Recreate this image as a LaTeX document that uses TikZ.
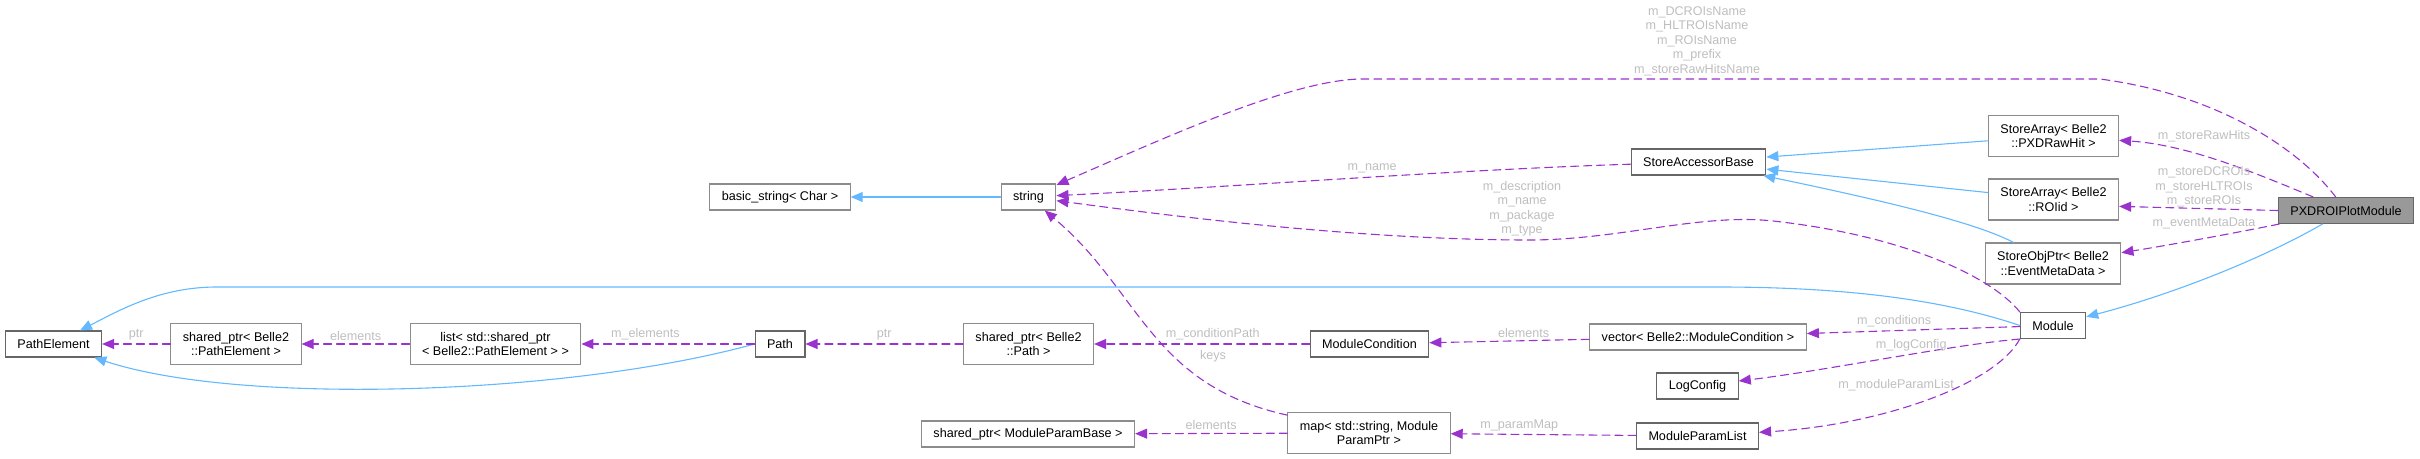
\documentclass[tikz,border=0pt]{standalone}
\usepackage{fontspec}
\setmainfont{Liberation Sans}
\usepackage{xcolor}
\definecolor{inhblue}{HTML}{63B8FF}
\definecolor{usepurple}{HTML}{9A32CD}
\definecolor{lblgrey}{HTML}{BEBEBE}
\definecolor{boxgrey}{HTML}{666666}
\definecolor{tplgrey}{HTML}{8C8C8C}
\definecolor{rootfill}{HTML}{999999}
\usepackage{tikz}
\usetikzlibrary{arrows.meta}

\begin{document}
\begin{tikzpicture}[x=1bp,y=-1bp,line cap=round]
	\tikzstyle{cls}=[draw=boxgrey,line width=1.1bp,fill=white,inner xsep=12bp,inner ysep=2bp,minimum height=26bp,align=center,font=\fontsize{12.6bp}{14.5bp}\selectfont];
	\tikzstyle{tpl}=[cls,draw=tplgrey];
	\tikzstyle{two}=[minimum height=41bp];
	\tikzstyle{root}=[cls,fill=rootfill];
	\tikzstyle{inh}=[draw=inhblue,line width=1.1bp,-{Triangle[length=12bp,width=10bp]}];
	\tikzstyle{use}=[draw=usepurple,line width=1.1bp,dash pattern=on 8bp off 5bp,-{Triangle[length=12bp,width=10bp]}];
	\tikzstyle{lbl}=[text=lblgrey,inner sep=1bp,align=center,font=\fontsize{12.6bp}{14.5bp}\selectfont];
	\useasboundingbox (0,0) rectangle (2420,459);
	% classes
	\node[cls]     (pathel)   at (53.5,344)   {PathElement};
	\node[tpl,two] (sppathel) at (236,344)    {shared\_ptr< Belle2\\::PathElement >};
	\node[tpl,two] (listpe)   at (495.5,344)  {list< std::shared\_ptr\\< Belle2::PathElement > >};
	\node[cls]     (path)     at (780,344)    {Path};
	\node[tpl,two] (sppath)   at (1028.5,344) {shared\_ptr< Belle2\\::Path >};
	\node[cls]     (modcond)  at (1369.5,344) {ModuleCondition};
	\node[tpl]     (vecmc)    at (1698,337)   {vector< Belle2::ModuleCondition >};
	\node[cls]     (module)   at (2053,325.5) {Module};
	\node[cls]     (logcfg)   at (1697.5,386) {LogConfig};
	\node[cls]     (mplist)   at (1697.5,436) {ModuleParamList};
	\node[tpl,two] (pmap)     at (1369,433)   {map< std::string, Module\\ParamPtr >};
	\node[tpl]     (spmpb)    at (1028,434)   {shared\_ptr< ModuleParamBase >};
	\node[tpl]     (bstring)  at (780,197)    {basic\_string< Char >};
	\node[tpl]     (string)   at (1028.5,197) {string};
	\node[cls]     (sab)      at (1698.5,162) {StoreAccessorBase};
	\node[tpl,two] (sarawhit) at (2053.5,136) {StoreArray< Belle2\\::PXDRawHit >};
	\node[tpl,two] (saroi)    at (2053.5,199.5) {StoreArray< Belle2\\::ROIid >};
	\node[tpl,two] (sopemd)   at (2053,263.5) {StoreObjPtr< Belle2\\::EventMetaData >};
	\node[root]    (pxdroi)   at (2346,210.5) {PXDROIPlotModule};
	% inheritance
	\draw[inh] (string) -- (bstring);
	\draw[inh] (path.west) .. controls (570,395) and (240,406) .. (pathel);
	\draw[inh] (module.west) .. controls (1930,295) and (1820,287) .. (1717,287) -- (217,287) .. controls (160,287) and (120,310) .. (pathel);
	\draw[inh] (sarawhit) -- (sab);
	\draw[inh] (saroi) -- (sab);
	\draw[inh] (sopemd) .. controls (1975,222) and (1880,200) .. (sab);
	\draw[inh] (pxdroi) .. controls (2260,260) and (2170,295) .. (module);
	% usage
	\draw[use] (sppathel) -- node[lbl,above=2bp]{ptr} (pathel);
	\draw[use] (listpe) -- node[lbl,above=2bp]{elements} (sppathel);
	\draw[use] (path) -- node[lbl,above=2bp,pos=0.63]{m\_elements} (listpe);
	\draw[use] (sppath) -- node[lbl,above=2bp]{ptr} (path);
	\draw[use] (modcond) -- node[lbl,above=2bp,pos=0.45]{m\_conditionPath} (sppath);
	\draw[use] (vecmc) -- node[lbl,above=2bp,pos=0.41]{elements} (modcond);
	\draw[use] (module) -- node[lbl,above=2bp,pos=0.59]{m\_conditions} (vecmc);
	\draw[use] (module.south west) .. controls (1950,345) and (1830,370) .. node[lbl,above=2bp,pos=0.42]{m\_logConfig} (logcfg);
	\draw[use] (module.south west) .. controls (1995,385) and (1880,425) .. (mplist);
	\node[lbl] (lmpl) at (1896,385) {m\_moduleParamList};
	\draw[use] (mplist) -- node[lbl,above=2bp,pos=0.63]{m\_paramMap} (pmap);
	\draw[use] (pmap) -- node[lbl,above=2bp]{elements} (spmpb);
	\draw[use] (pmap) .. controls (1150,385) and (1140,290) .. (string);
	\node[lbl] (lkeys) at (1213,356) {keys};
	\draw[use] (module.north west) .. controls (1990,275) and (1900,235) .. (1773,221) .. controls (1700,213) and (1620,240) .. (1529,240) .. controls (1350,240) and (1150,213) .. (string);
	\node[lbl] (lmod) at (1522,208.5) {m\_description\\m\_name\\m\_package\\m\_type};
	\draw[use] (sab) .. controls (1450,170) and (1250,186) .. (string);
	\node[lbl] (lname) at (1372,168) {m\_name};
	\draw[use] (pxdroi) .. controls (2300,150) and (2220,95) .. (2100,79) -- (1361,79) .. controls (1290,80) and (1160,140) .. (string);
	\node[lbl] (lnames) at (1697,41) {m\_DCROIsName\\m\_HLTROIsName\\m\_ROIsName\\m\_prefix\\m\_storeRawHitsName};
	\draw[use] (pxdroi) .. controls (2260,175) and (2190,145) .. (sarawhit);
	\node[lbl] (lraw) at (2204,136) {m\_storeRawHits};
	\draw[use] (pxdroi.west) -- (saroi.-6);
	\node[lbl] (lrois) at (2204,187) {m\_storeDCROIs\\m\_storeHLTROIs\\m\_storeROIs};
	\draw[use] (pxdroi) .. controls (2240,232) and (2170,245) .. (sopemd);
	\node[lbl] (lemd) at (2204,223) {m\_eventMetaData};
\end{tikzpicture}
\end{document}
